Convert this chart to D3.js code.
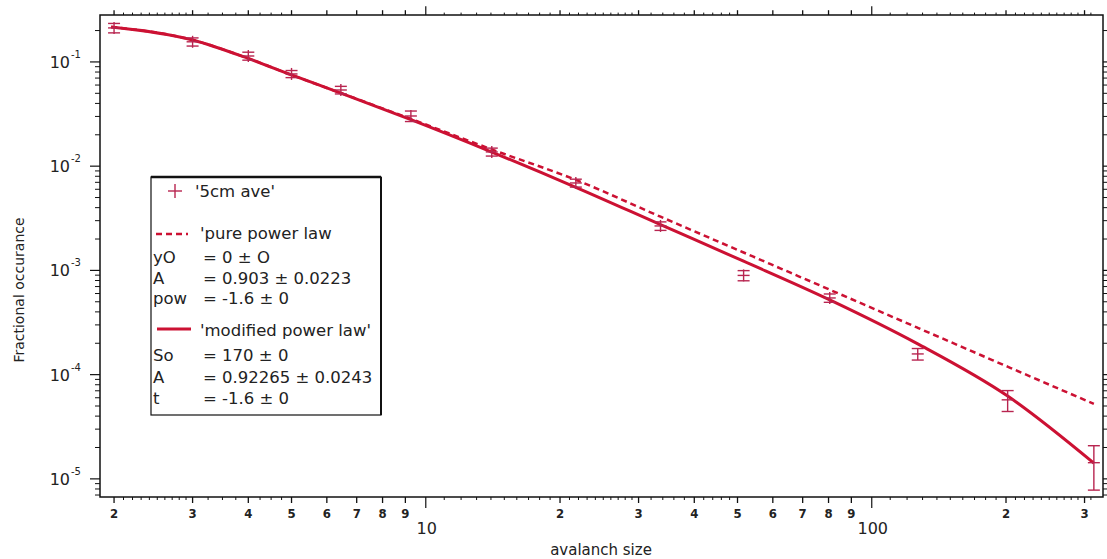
<!DOCTYPE html>
<html><head><meta charset="utf-8">
<script src="https://cdn.jsdelivr.net/npm/d3@7"></script>
<style>
html,body{margin:0;padding:0;background:#fff;}
svg{display:block;}
</style></head>
<body>
<svg id="chart" width="1107" height="559"></svg>
<script>
// ---- data ----
const sizes = [2, 3, 4, 5, 6.45, 9.26, 14.06, 21.7, 33.6, 51.6, 80.5, 126.8, 201.7, 314.8];
const occurrence = [0.212, 0.156, 0.114, 0.0767, 0.0538, 0.0303, 0.0137, 0.0069, 0.00267, 0.000895, 0.000544, 0.000158, 0.0000573, 0.0000143];
const occErr = [0.022, 0.014, 0.010, 0.006, 0.0045, 0.0035, 0.0012, 0.0006, 0.00025, 0.0001, 0.00005, 0.00002, 0.000013, 0.0000065];

const fitX = [1.97, 3, 4, 5, 6.45, 9.26, 14.06, 21.7, 33.6, 51.6, 80.5, 126.8, 201.7, 314.8];
const modifiedFit = [0.2166, 0.1626, 0.1080, 0.0750, 0.05029, 0.02796, 0.01367, 0.006267, 0.002745, 0.001225, 0.0005212, 0.0001972, 0.00006227, 0.00001414];
const pureFit = [0.2166, 0.1626, 0.1080, 0.0750, 0.05029, 0.02839, 0.01447, 0.007381, 0.003274, 0.001485, 0.000653, 0.0002813, 0.0001192, 0.0000524];

const xLabelTicks = [2, 3, 4, 5, 6, 7, 8, 9, 20, 30, 40, 50, 60, 70, 80, 90, 200, 300];
const xLabelText  = ["2","3","4","5","6","7","8","9","2","3","4","5","6","7","8","9","2","3"];
const xMajorTicks = [10, 100];
const xMajorText = ["10", "100"];
const xMinorTicks = [2.1, 2.2, 2.3, 2.4, 2.5, 2.6, 2.7, 2.8, 2.9, 3.25, 3.5, 3.75, 4.25, 4.5, 4.75,
  11, 12, 13, 14, 15, 16, 17, 18, 19, 21, 22, 23, 24, 25, 26, 27, 28, 29, 32, 34, 36, 38, 42, 44, 46, 48,
  110, 120, 130, 140, 150, 160, 170, 180, 190, 210, 220, 230, 240, 250, 260, 270, 280, 290, 310];
const yDecades = [1e-1, 1e-2, 1e-3, 1e-4, 1e-5];
const yDecadeExp = ["-1", "-2", "-3", "-4", "-5"];
const yMinorMult = [2, 3, 4, 5, 6, 7, 8, 9];

const legendPure = [["yO", "= 0 \u00b1 O"], ["A", "= 0.903 \u00b1 0.0223"], ["pow", "= -1.6 \u00b1 0"]];
const legendMod = [["So", "= 170 \u00b1 0"], ["A", "= 0.92265 \u00b1 0.0243"], ["t", "= -1.6 \u00b1 0"]];

// ---- layout ----
const L = 100, R = 1103, T = 15, B = 497;
const lineColor = "#cc1133";
const markColor = "#b82550";
const textColor = "#222";
const svg = d3.select("#chart");

const x = d3.scaleLog().domain([1.86, 330]).range([L, R]);
const y = d3.scaleLog().domain([6.7e-6, 0.282]).range([B, T]);

// y minor ticks
const yMinor = [];
[1e-6, 1e-5, 1e-4, 1e-3, 1e-2, 1e-1].forEach(d => yMinorMult.forEach(m => {
  const v = d * m; if (v > 6.7e-6 && v < 0.282) yMinor.push(v);
}));

const ax = svg.append("g").attr("stroke", "#111").attr("fill", "none");
// left axis ticks
yMinor.forEach(v => { ax.append("line").attr("x1", L - 5).attr("x2", L).attr("y1", y(v)).attr("y2", y(v)).attr("stroke-width", 1); });
yDecades.forEach(v => { ax.append("line").attr("x1", L - 10).attr("x2", L).attr("y1", y(v)).attr("y2", y(v)).attr("stroke-width", 1.2); });
// right axis ticks (outward)
yMinor.forEach(v => { ax.append("line").attr("x1", R).attr("x2", R + 4).attr("y1", y(v)).attr("y2", y(v)).attr("stroke-width", 1); });
yDecades.forEach(v => { ax.append("line").attr("x1", R).attr("x2", R + 8).attr("y1", y(v)).attr("y2", y(v)).attr("stroke-width", 1.2); });
// bottom & top ticks
function xt(v, len, w) {
  ax.append("line").attr("x1", x(v)).attr("x2", x(v)).attr("y1", B).attr("y2", B + len).attr("stroke-width", w);
  ax.append("line").attr("x1", x(v)).attr("x2", x(v)).attr("y1", T).attr("y2", T - len * 0.8).attr("stroke-width", w);
}
xMinorTicks.forEach(v => xt(v, 3, 1));
xLabelTicks.forEach(v => xt(v, 6, 1.3));
xMajorTicks.forEach(v => xt(v, 11, 1.2));

// frame
svg.append("rect").attr("x", L).attr("y", T).attr("width", R - L).attr("height", B - T)
  .attr("fill", "none").attr("stroke", "#111").attr("stroke-width", 1.5);

// tick labels
const tl = svg.append("g").attr("fill", textColor);
xLabelTicks.forEach((v, i) => {
  tl.append("text").attr("x", x(v)).attr("y", 518).attr("text-anchor", "middle")
    .attr("font-family", "'Liberation Sans Narrow','DejaVu Sans Condensed',sans-serif")
    .attr("font-weight", "bold").attr("font-size", 13).text(xLabelText[i]);
});
xMajorTicks.forEach((v, i) => {
  tl.append("text").attr("x", x(v) + 1).attr("y", 534).attr("text-anchor", "middle")
    .attr("font-family", "'DejaVu Sans',sans-serif").attr("font-size", 16)
    .attr("fill", textColor).text(xMajorText[i]);
});
yDecades.forEach((v, i) => {
  tl.append("text").attr("x", 70).attr("y", y(v) + 6).attr("text-anchor", "end")
    .attr("font-family", "'DejaVu Sans',sans-serif").attr("font-size", 16).text("10");
  tl.append("text").attr("x", 71).attr("y", y(v) - 4)
    .attr("font-family", "'DejaVu Sans',sans-serif").attr("font-size", 10).text(yDecadeExp[i]);
});

// axis titles
svg.append("text").attr("transform", "translate(24,290) rotate(-90)").attr("text-anchor", "middle")
  .attr("font-family", "'DejaVu Sans',sans-serif").attr("font-size", 14).attr("fill", textColor)
  .text("Fractional occurance");
svg.append("text").attr("x", 601).attr("y", 555).attr("text-anchor", "middle")
  .attr("font-family", "'DejaVu Sans',sans-serif").attr("font-size", 15).attr("fill", textColor)
  .text("avalanch size");

// curves
const line = d3.line().x(d => x(d[0])).y(d => y(d[1])).curve(d3.curveMonotoneX);
svg.append("path").attr("d", line(fitX.map((v, i) => [v, pureFit[i]])))
  .attr("fill", "none").attr("stroke", lineColor).attr("stroke-width", 2.5).attr("stroke-dasharray", "6,4");
svg.append("path").attr("d", line(fitX.map((v, i) => [v, modifiedFit[i]])))
  .attr("fill", "none").attr("stroke", lineColor).attr("stroke-width", 3);

// markers with error bars
const mk = svg.append("g").attr("stroke", markColor).attr("stroke-width", 1.4).attr("fill", "none");
sizes.forEach((s, i) => {
  const cx = x(s), cy = y(occurrence[i]);
  const y1 = y(occurrence[i] + occErr[i]), y2 = y(occurrence[i] - occErr[i]);
  mk.append("line").attr("x1", cx).attr("x2", cx).attr("y1", Math.min(y1, cy - 6)).attr("y2", Math.max(y2, cy + 6));
  mk.append("line").attr("x1", cx - 6).attr("x2", cx + 6).attr("y1", y1).attr("y2", y1);
  mk.append("line").attr("x1", cx - 6).attr("x2", cx + 6).attr("y1", y2).attr("y2", y2);
  mk.append("line").attr("x1", cx - 6).attr("x2", cx + 6).attr("y1", cy).attr("y2", cy);
});

// legend
const lg = svg.append("g");
lg.append("rect").attr("x", 151).attr("y", 177).attr("width", 230).attr("height", 238)
  .attr("fill", "#fff").attr("stroke", "#111").attr("stroke-width", 1.2);
lg.append("line").attr("x1", 151).attr("x2", 381).attr("y1", 177).attr("y2", 177).attr("stroke", "#111").attr("stroke-width", 2.5);
lg.append("line").attr("x1", 381).attr("x2", 381).attr("y1", 177).attr("y2", 415).attr("stroke", "#111").attr("stroke-width", 2);
lg.append("line").attr("x1", 168).attr("x2", 182).attr("y1", 191).attr("y2", 191).attr("stroke", markColor).attr("stroke-width", 1.4);
lg.append("line").attr("x1", 175).attr("x2", 175).attr("y1", 184).attr("y2", 198).attr("stroke", markColor).attr("stroke-width", 1.4);
lg.append("line").attr("x1", 156).attr("x2", 188).attr("y1", 234).attr("y2", 234).attr("stroke", lineColor)
  .attr("stroke-width", 2.5).attr("stroke-dasharray", "6,4");
lg.append("line").attr("x1", 157).attr("x2", 191).attr("y1", 329).attr("y2", 329).attr("stroke", lineColor).attr("stroke-width", 3);
const lt = lg.append("g").attr("font-family", "'DejaVu Sans',sans-serif").attr("font-size", 16.5).attr("fill", textColor);
lt.append("text").attr("x", 195).attr("y", 197).text("'5cm ave'");
lt.append("text").attr("x", 200).attr("y", 239).text("'pure power law");
lt.append("text").attr("x", 200).attr("y", 336).text("'modified power law'");
const rowsP = [263, 284, 304], rowsM = [361, 383, 404];
legendPure.forEach((r, i) => {
  lt.append("text").attr("x", 153).attr("y", rowsP[i]).text(r[0]);
  lt.append("text").attr("x", 203).attr("y", rowsP[i]).text(r[1]);
});
legendMod.forEach((r, i) => {
  lt.append("text").attr("x", 153).attr("y", rowsM[i]).text(r[0]);
  lt.append("text").attr("x", 203).attr("y", rowsM[i]).text(r[1]);
});
</script>
</body></html>
